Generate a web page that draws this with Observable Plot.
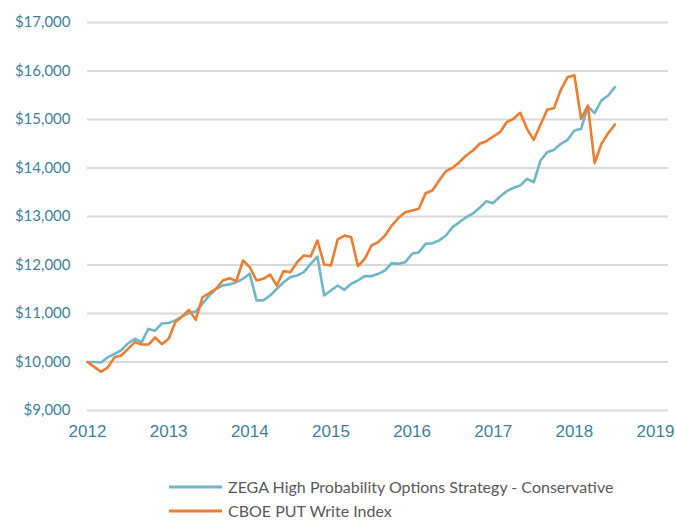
<!DOCTYPE html>
<html>
<head>
<meta charset="utf-8">
<script src="https://cdn.jsdelivr.net/npm/d3@7"></script>
<script src="https://cdn.jsdelivr.net/npm/@observablehq/plot@0.6"></script>
<style>
  html, body { margin: 0; padding: 0; background: #fff; }
  #wrap { position: relative; width: 676px; height: 520px; }
  #legend { position: absolute; left: 169px; top: 479px; font-family: Lato, "Open Sans", sans-serif; font-size: 16px; line-height: 16px; color: #595959; }
  .row { display: flex; align-items: center; height: 16px; margin-bottom: 8px; white-space: nowrap; }
  .row svg { margin-right: 6px; }
</style>
</head>
<body>
<div id="wrap"><div id="chart"></div><div id="legend"></div></div>
<script>
// Monthly values, Jan 2012 .. Jul 2018
const startYear = 2012;
const seriesNames = ["ZEGA High Probability Options Strategy - Conservative", "CBOE PUT Write Index"];
const seriesColors = ["#6fb6c9", "#ed7d31"];
const zega = [
  10000, 10000, 9990, 10100, 10165, 10245, 10385, 10480, 10405, 10682,
  10645, 10795, 10805, 10858, 10940, 11010, 11040, 11200, 11370, 11505,
  11580, 11600, 11646, 11715, 11818, 11270, 11270, 11370, 11510, 11646,
  11750, 11784, 11852, 12024, 12175, 11371, 11474, 11577, 11488, 11612,
  11680, 11770, 11770, 11818, 11887, 12038, 12024, 12058, 12230, 12265,
  12436, 12450, 12505, 12608, 12780, 12883, 12986, 13060, 13180, 13316,
  13275, 13412, 13522, 13591, 13639, 13777, 13708, 14155, 14326, 14375,
  14498, 14581, 14773, 14808, 15268, 15131, 15392, 15495, 15667
];
const cboe = [
  10000, 9900, 9800, 9885, 10100, 10134, 10270, 10410, 10360, 10360,
  10505, 10368, 10480, 10825, 10940, 11075, 10870, 11335, 11420, 11510,
  11680, 11728, 11667, 12093, 11955, 11680, 11715, 11804, 11577, 11873,
  11852, 12058, 12196, 12175, 12505, 12010, 11990, 12530, 12608, 12570,
  11976, 12127, 12402, 12471, 12608, 12814, 12973, 13089, 13124, 13158,
  13481, 13536, 13742, 13934, 14003, 14120, 14258, 14361, 14500, 14553,
  14649, 14739, 14945, 15014, 15138, 14808, 14581, 14897, 15206, 15234,
  15612, 15873, 15914, 15014, 15289, 14100, 14498, 14718, 14897
];
const yTicks = [9000, 10000, 11000, 12000, 13000, 14000, 15000, 16000, 17000];
const xTicks = [2012, 2013, 2014, 2015, 2016, 2017, 2018, 2019];

const rows = [];
[zega, cboe].forEach((arr, s) => arr.forEach((v, i) => rows.push({series: seriesNames[s], t: startYear + i / 12, v})));

const axisColor = "#3f7f9b";
const chart = Plot.plot({
  width: 676,
  height: 450,
  marginLeft: 87,
  marginRight: 8,
  marginTop: 22,
  marginBottom: 40,
  x: {domain: [2012, 2019], range: [87, 655], label: null},
  y: {domain: [9000, 17000], label: null},
  color: {domain: seriesNames, range: seriesColors},
  style: {background: "#fff"},
  marks: [
    Plot.gridY(yTicks, {stroke: "#d9d9d9", strokeOpacity: 1, strokeWidth: 2}),
    Plot.axisY(yTicks, {tickSize: 0, tickPadding: 17, label: null, tickFormat: d => "$" + d3.format(",")(d), fontSize: 15, fontFamily: "Lato", fill: axisColor}),
    Plot.axisX(xTicks, {tickSize: 0, tickPadding: 14, label: null, tickFormat: d => String(d), fontSize: 17, fontFamily: "Liberation Sans, Arial", fill: axisColor}),
    Plot.line(rows, {x: "t", y: "v", z: "series", stroke: "series", strokeWidth: 2.6, curve: "linear"})
  ]
});
document.getElementById("chart").appendChild(chart);

const legend = document.getElementById("legend");
seriesNames.forEach((name, i) => {
  const row = document.createElement("div");
  row.className = "row";
  row.innerHTML = `<svg width="53" height="6"><line x1="0" x2="53" y1="3" y2="3" stroke="${seriesColors[i]}" stroke-width="3"/></svg><span>${name}</span>`;
  legend.appendChild(row);
});
</script>
</body>
</html>
